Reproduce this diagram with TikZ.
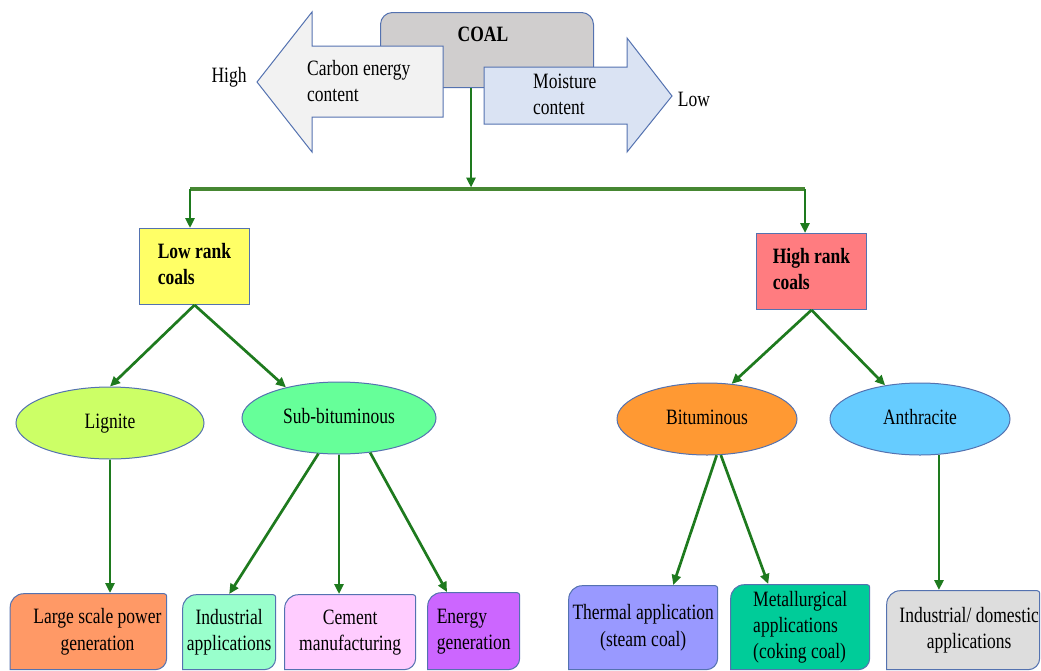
\documentclass[tikz,border=0pt]{standalone}
\usepackage{fontspec}
\setmainfont{Liberation Serif}
\usepackage{graphicx}
\usetikzlibrary{shapes.geometric,arrows.meta,calc}
\definecolor{bline}{RGB}{84,114,176}
\definecolor{grn}{RGB}{30,122,30}
\definecolor{grnh}{RGB}{70,135,50}
\definecolor{coalgray}{RGB}{208,206,206}
\definecolor{leftarr}{RGB}{242,242,242}
\definecolor{rightarr}{RGB}{218,227,243}
\definecolor{cLow}{RGB}{255,255,102}
\definecolor{cHigh}{RGB}{255,124,128}
\definecolor{cLig}{RGB}{204,255,102}
\definecolor{cSub}{RGB}{102,255,153}
\definecolor{cBit}{RGB}{255,153,51}
\definecolor{cAnt}{RGB}{102,204,255}
\definecolor{cLps}{RGB}{255,153,102}
\definecolor{cInd}{RGB}{153,255,204}
\definecolor{cCem}{RGB}{255,204,255}
\definecolor{cEn}{RGB}{204,102,255}
\definecolor{cTh}{RGB}{153,153,255}
\definecolor{cMet}{RGB}{0,204,153}
\definecolor{cDom}{RGB}{221,221,221}
\newcommand\st[2][c]{\scalebox{1}[1.25]{\begin{tabular}{@{}#1@{}}#2\end{tabular}}}
\begin{document}
\begin{tikzpicture}[x=1pt,y=1pt,
  every node/.style={font=\fontsize{17.5}{21}\selectfont, inner sep=0pt},
  conn/.style={draw=grn, line width=2.7pt, -{Triangle[length=10pt,width=9pt]}},
  hline/.style={draw=grnh, line width=3.5pt},
  shapeline/.style={draw=bline, line width=1pt},
  ell/.style={ellipse, shapeline, minimum height=72pt},
  rankbox/.style={rectangle, shapeline, minimum width=110pt, minimum height=76pt, anchor=north west},
  appbox/.style={rectangle, anchor=north west, path picture={
    \path[shapeline, fill=#1]
      ([shift={(0.5pt,0.5pt)}]path picture bounding box.south west)
      -- ([shift={(0.5pt,-14pt)}]path picture bounding box.north west)
      arc[start angle=180, end angle=90, radius=13.5pt]
      -- ([shift={(-3pt,-0.5pt)}]path picture bounding box.north east)
      arc[start angle=90, end angle=0, radius=2.5pt]
      -- ([shift={(-0.5pt,12pt)}]path picture bounding box.south east)
      arc[start angle=0, end angle=-90, radius=11.5pt]
      -- cycle;}}
]
\useasboundingbox (0,0) rectangle (1041,-670);

% COAL box and the two big arrows
\node[shapeline, fill=coalgray, rounded corners=12pt, minimum width=213pt, minimum height=75pt, anchor=north west] (coalbox) at (380,-12) {};
\path[shapeline, fill=leftarr] (257,-82) -- (312,-12) -- (312,-46) -- (443,-46) -- (443,-117) -- (312,-117) -- (312,-152) -- cycle;
\path[shapeline, fill=rightarr] (484,-67) -- (627,-67) -- (627,-38) -- (672,-96) -- (627,-152) -- (627,-124) -- (484,-124) -- cycle;
\node[font=\fontsize{17.5}{21}\selectfont\bfseries] (coal) at (483,-36) {\st{COAL}};
\node[anchor=west] (carbon) at (307,-83) {\st[l]{Carbon energy\\content}};
\node[anchor=west] (moist) at (533,-96) {\st[l]{Moisture\\content}};
\node (high) at (229,-77) {\st{High}};
\node (low) at (694,-101) {\st{Low}};

% rank boxes
\node[rankbox, fill=cLow] (lowr) at (139,-228) {\bfseries\st[l]{Low rank\\coals}};
\node[rankbox, fill=cHigh] (highr) at (756,-233) {\bfseries\st[l]{High rank\\coals}};

% ellipses
\node[ell, fill=cLig, minimum width=188pt] (lig) at (110,-423) {\st{Lignite}};
\node[ell, fill=cSub, minimum width=194pt] (sub) at (339,-418) {\st{Sub-bituminous}};
\node[ell, fill=cBit, minimum width=180pt] (bit) at (707,-419) {\st{Bituminous}};
\node[ell, fill=cAnt, minimum width=180pt] (ant) at (920,-419) {\st{Anthracite}};

% application boxes
\node[appbox=cLps, minimum width=157.5pt, minimum height=77pt] (lps) at (9.5,-593) {\st{\hspace*{18pt}Large scale power\\\hspace*{18pt}generation}};
\node[appbox=cInd, minimum width=94pt, minimum height=76pt] (ind) at (182,-594) {\st{Industrial\\applications}};
\node[appbox=cCem, minimum width=132pt, minimum height=76pt] (cem) at (284,-594) {\st{Cement\\manufacturing}};
\node[appbox=cEn, minimum width=93pt, minimum height=78pt] (en) at (427,-592) {\st[l]{Energy\\generation}};
\node[appbox=cTh, minimum width=150pt, minimum height=85pt] (th) at (568,-585) {\st{Thermal application\\(steam coal)}};
\node[appbox=cMet, minimum width=140pt, minimum height=86pt] (met) at (730,-584) {\st[l]{Metallurgical\\applications\\(coking coal)}};
\node[appbox=cDom, minimum width=154pt, minimum height=80pt] (dom) at (886,-590) {\st{\hspace*{12pt}Industrial/ domestic\\\hspace*{12pt}applications}};

% connectors
\coordinate (split) at (471,-189);
\coordinate (brL) at (190,-189);
\coordinate (brR) at (805,-189);
\draw[conn, shorten >=1.5pt] (coalbox.south -| split) -- (split);
\draw[hline] (brL) -- (brR);
\draw[conn] (brL) -- (brL |- lowr.north);
\draw[conn] (brR) -- (brR |- highr.north);
\draw[conn] (lowr.south) -- (lig.north);
\draw[conn] (lowr.south) -- (sub.150);
\draw[conn] (highr.south) -- (bit.55);
\draw[conn] (highr.south) -- (ant.136);
\draw[conn] (lig.south) -- (lig.south |- lps.north);
\draw[conn] (sub.240) -- (ind.north);
\draw[conn] (sub.south) -- (sub.south |- cem.north);
\draw[conn] (sub.312) -- ([xshift=20pt]en.north west);
\draw[conn] (bit.285) -- ([xshift=30pt]th.north);
\draw[conn] (bit.291) -- ([xshift=-32pt]met.north);
\draw[conn] (ant.298) -- (ant.298 |- dom.north);
\end{tikzpicture}
\end{document}
